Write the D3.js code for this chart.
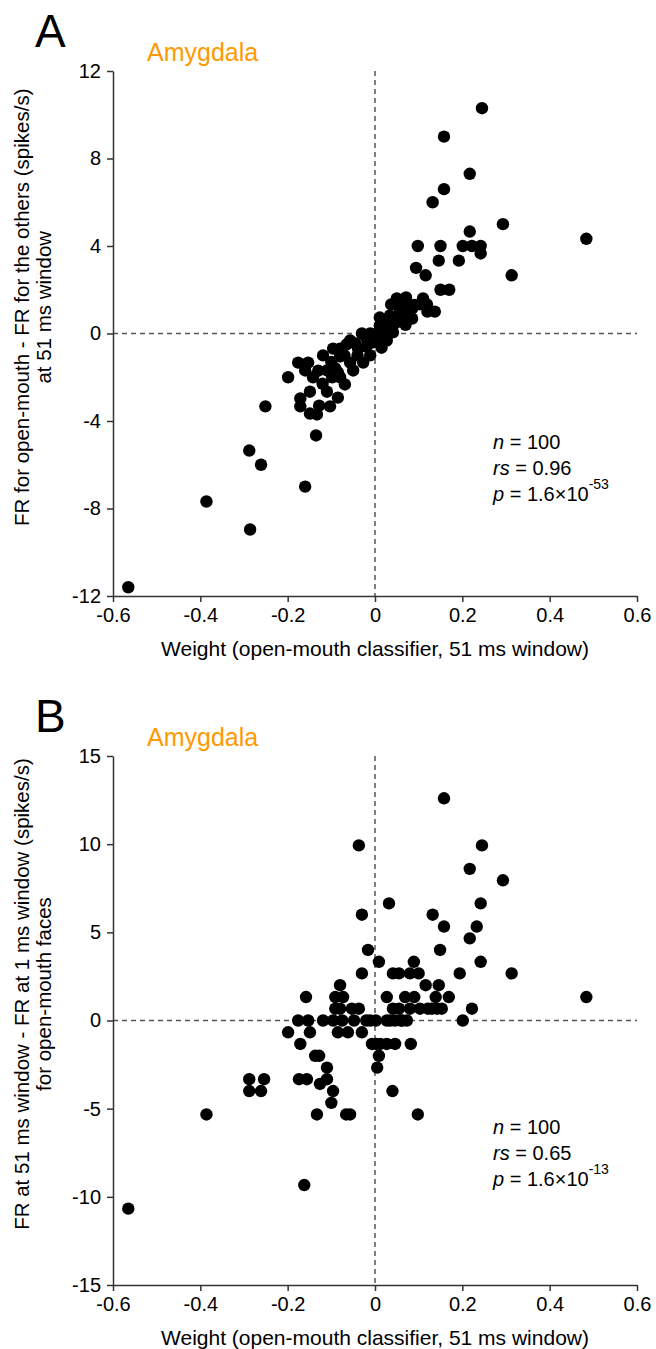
<!DOCTYPE html>
<html>
<head>
<meta charset="utf-8">
<script src="https://cdn.jsdelivr.net/npm/d3@7"></script>
<style>
  body { margin: 0; background: #fff; }
  text { font-family: "Liberation Sans", Arial, sans-serif; }
</style>
</head>
<body>
<svg id="chart" width="656" height="1349"></svg>
<script>
// ---- data ----
const xTicks = [-0.6, -0.4, -0.2, 0, 0.2, 0.4, 0.6];
const yTicksA = [-12, -8, -4, 0, 4, 8, 12];
const yTicksB = [-15, -10, -5, 0, 5, 10, 15];

// panel A: weight vs FR(open-mouth) - FR(others), 51 ms window
const weightsA = [0.245, 0.158, 0.217, 0.158, 0.132, 0.293, 0.217, 0.098, 0.15, 0.201,
  0.222, 0.242, 0.242, 0.146, 0.192, 0.094, 0.116, 0.313, 0.15, 0.17,
  0.484, 0.071, 0.037, 0.046, 0.103, 0.119, 0.137, 0.085, 0.011, 0.034,
  0.057, 0.073, 0.085, 0.011, 0.027, 0.046, 0.041, 0.005, -0.011, -0.03,
  0.027, -0.005, -0.057, -0.045, -0.039, -0.096, -0.08, -0.119, -0.011, -0.027,
  -0.08, -0.176, -0.153, -0.16, -0.142, -0.199, -0.11, -0.091, -0.085, -0.057,
  -0.05, -0.098, -0.08, -0.069, -0.149, -0.11, -0.171, -0.085, -0.171, -0.128,
  -0.103, -0.149, -0.133, -0.251, -0.135, -0.288, -0.261, -0.386, -0.286, -0.565,
  -0.16, 0.06, 0.02, -0.02, 0.05, 0.09, 0.07, -0.065, -0.1, -0.02,
  0.0, 0.03, 0.065, -0.04, -0.12, -0.13, 0.11, 0.12, -0.07, 0.015];
const frDiffA = [10.3, 9.0, 7.3, 6.6, 6.0, 5.0, 4.66, 4.0, 4.0, 4.0,
  4.0, 4.0, 3.66, 3.33, 3.33, 3.0, 2.66, 2.66, 2.0, 2.0,
  4.33, 1.65, 1.33, 1.33, 1.33, 1.33, 1.0, 1.14, 0.73, 0.82,
  0.96, 1.05, 0.68, 0.37, 0.37, 0.46, 0.05, 0.0, 0.0, 0.0,
  -0.32, -0.41, -0.32, -0.45, -0.69, -0.69, -0.69, -1.0, -1.0, -1.33,
  -1.05, -1.33, -1.33, -1.69, -2.0, -2.0, -1.69, -1.6, -1.78, -1.33,
  -1.69, -2.0, -2.0, -2.33, -2.66, -2.66, -2.97, -2.93, -3.33, -3.3,
  -3.33, -3.66, -3.7, -3.33, -4.66, -5.35, -6.0, -7.68, -8.96, -11.6,
  -7.0, 0.7, 0.1, -0.2, 1.6, 1.3, 0.4, -0.5, -1.3, -0.6,
  -0.3, 0.6, 1.3, -1.0, -2.3, -1.7, 1.6, 1.0, -1.0, -0.65];

// panel B: weight vs FR(51 ms) - FR(1 ms) for open-mouth faces
const weightsB = [0.158, -0.037, 0.245, 0.217, 0.293, 0.032, 0.242, -0.03, 0.132, 0.158,
  0.233, 0.217, -0.016, 0.149, 0.009, 0.089, 0.242, -0.03, 0.041, 0.055,
  0.08, 0.1, 0.194, 0.313, 0.116, 0.146, -0.08, -0.073, -0.091, -0.158,
  0.027, 0.069, 0.139, 0.169, -0.091, -0.053, -0.037, 0.041, 0.08, 0.103,
  0.121, 0.142, 0.153, 0.222, 0.484, -0.176, -0.153, -0.119, -0.096, -0.075,
  -0.048, -0.011, 0.002, 0.027, 0.046, 0.062, 0.073, 0.201, -0.199, -0.149,
  -0.085, -0.062, -0.03, -0.171, -0.007, 0.002, 0.027, 0.046, 0.082, -0.137,
  -0.128, 0.009, 0.005, -0.11, -0.174, -0.156, -0.11, -0.126, -0.096, -0.1,
  -0.133, -0.066, -0.057, -0.288, -0.254, -0.288, -0.261, -0.386, -0.162, -0.565,
  0.04, 0.098, 0.035, 0.055, -0.02, 0.012, -0.08, 0.09, 0.13, 0.06];
const frDiffB = [12.6, 9.93, 9.93, 8.6, 7.95, 6.64, 6.64, 6.0, 6.0, 5.33,
  5.33, 4.66, 4.0, 4.0, 3.33, 3.33, 3.33, 2.67, 2.67, 2.67,
  2.67, 2.67, 2.67, 2.67, 2.0, 2.0, 2.0, 1.33, 1.33, 1.33,
  1.33, 1.33, 1.33, 1.33, 0.67, 0.67, 0.67, 0.67, 0.67, 0.67,
  0.67, 0.67, 0.67, 0.67, 1.33, 0, 0, 0, 0, 0,
  0, 0, 0, 0, 0, 0, 0, 0, -0.67, -0.67,
  -0.67, -0.67, -0.67, -1.33, -1.33, -1.33, -1.33, -1.33, -1.33, -2.0,
  -2.0, -2.0, -2.67, -2.67, -3.33, -3.33, -3.33, -3.6, -4.0, -4.67,
  -5.33, -5.33, -5.33, -3.33, -3.33, -4.0, -4.0, -5.33, -9.33, -10.67,
  -4.0, -5.33, 0, 0.67, 0, -1.33, 0.67, 1.33, 0.67, 0];

const xTitle = "Weight (open-mouth classifier, 51 ms window)";

const panels = [
  { letter: "A", top: 0, plotTop: 71, plotBottom: 596, xs: weightsA, ys: frDiffA, yTicks: yTicksA,
    yLabel: ["FR for open-mouth - FR for the others (spikes/s)", "at 51 ms window"],
    stats: ["100", "0.96", "1.6×10", "-53"] },
  { letter: "B", top: 685, plotTop: 71, plotBottom: 600, xs: weightsB, ys: frDiffB, yTicks: yTicksB,
    yLabel: ["FR at 51 ms window - FR at 1 ms window (spikes/s)", "for open-mouth faces"],
    stats: ["100", "0.65", "1.6×10", "-13"] }
];

const svg = d3.select("#chart");
const orange = "#ff9900";
const axisColor = "#333";

panels.forEach(p => {
  const g = svg.append("g").attr("transform", `translate(0,${p.top})`);
  const left = 113, right = 637;

  const x = d3.scaleLinear().domain([-0.6, 0.6]).range([left, right]);
  const y = d3.scaleLinear().domain(d3.extent(p.yTicks)).range([p.plotBottom, p.plotTop]);

  // panel letter + region
  g.append("text").attr("x", 35).attr("y", 47)
    .attr("font-size", 46).text(p.letter);
  g.append("text").attr("x", 147).attr("y", 61)
    .attr("font-size", 25).attr("fill", orange).text("Amygdala");

  // dashed zero lines
  g.append("line")
    .attr("x1", x(0)).attr("x2", x(0)).attr("y1", y.range()[1]).attr("y2", y.range()[0])
    .attr("stroke", "#555").attr("stroke-width", 1.5).attr("stroke-dasharray", "5,4");
  g.append("line")
    .attr("x1", x.range()[0]).attr("x2", x.range()[1]).attr("y1", y(0)).attr("y2", y(0))
    .attr("stroke", "#555").attr("stroke-width", 1.5).attr("stroke-dasharray", "5,4");

  // axes
  const xAxis = g.append("g").attr("transform", `translate(0,${p.plotBottom})`)
    .call(d3.axisBottom(x).tickValues(xTicks).tickFormat(d => String(d))
      .tickSize(6).tickSizeOuter(0).tickPadding(6));
  const yAxis = g.append("g").attr("transform", `translate(${left},0)`)
    .call(d3.axisLeft(y).tickValues(p.yTicks).tickFormat(d => String(d))
      .tickSize(6).tickSizeOuter(0).tickPadding(6));
  [xAxis, yAxis].forEach(a => {
    a.selectAll("path, line").attr("stroke", axisColor).attr("stroke-width", 1.5);
    a.selectAll("text").attr("font-size", 20).attr("fill", "#000")
      .style("font-family", '"Liberation Sans", Arial, sans-serif');
  });

  // points
  g.append("g").selectAll("circle")
    .data(d3.range(p.xs.length))
    .join("circle")
    .attr("cx", i => x(p.xs[i]))
    .attr("cy", i => y(p.ys[i]))
    .attr("r", 6.2)
    .attr("fill", "#000");

  // axis titles
  g.append("text").attr("x", (left + right) / 2).attr("y", p.plotBottom + 60)
    .attr("text-anchor", "middle").attr("font-size", 21).text(xTitle);
  const midY = p.plotTop + (p.plotBottom - p.plotTop) * 0.45;
  p.yLabel.forEach((t, i) => {
    g.append("text")
      .attr("transform", `translate(${29 + i * 22},${midY}) rotate(-90)`)
      .attr("text-anchor", "middle").attr("font-size", 20.5).text(t);
  });

  // stats
  const sy = p.plotTop + 378;
  const st = g.append("text").attr("x", 493).attr("y", sy).attr("font-size", 20);
  st.append("tspan").attr("font-style", "italic").text("n");
  st.append("tspan").text(" = " + p.stats[0]);
  const st2 = g.append("text").attr("x", 493).attr("y", sy + 26).attr("font-size", 20);
  st2.append("tspan").attr("font-style", "italic").text("rs");
  st2.append("tspan").text(" = " + p.stats[1]);
  const st3 = g.append("text").attr("x", 493).attr("y", sy + 52).attr("font-size", 20);
  st3.append("tspan").attr("font-style", "italic").text("p");
  st3.append("tspan").text(" = " + p.stats[2]);
  st3.append("tspan").attr("dy", -12).attr("font-size", 14).text(p.stats[3]);
});
</script>
</body>
</html>
